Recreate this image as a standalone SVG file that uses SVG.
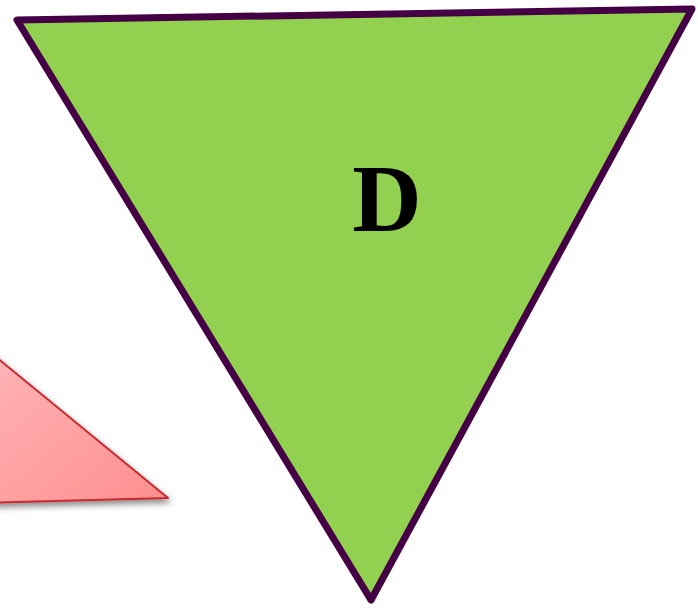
<svg xmlns="http://www.w3.org/2000/svg" width="698" height="610" viewBox="0 0 698 610">
  <defs>
    <linearGradient id="pinkGrad" x1="0" y1="0" x2="1" y2="1">
      <stop offset="0" stop-color="#ffbfc2"/>
      <stop offset="1" stop-color="#ff8e8e"/>
    </linearGradient>
    <filter id="shadow" x="-20%" y="-20%" width="140%" height="140%">
      <feGaussianBlur in="SourceAlpha" stdDeviation="3"/>
      <feOffset dx="2" dy="4" result="b"/>
      <feComponentTransfer><feFuncA type="linear" slope="0.45"/></feComponentTransfer>
      <feMerge><feMergeNode/><feMergeNode in="SourceGraphic"/></feMerge>
    </filter>
    <style>
      .label { font-family: "Liberation Serif", "Times New Roman", serif; font-weight: bold; fill: #000; }
    </style>
  </defs>
  <rect width="698" height="610" fill="#ffffff"/>
  <g id="pink-triangle" filter="url(#shadow)">
    <polygon points="-60,311 168,498 -20,503" fill="url(#pinkGrad)" stroke="#c62a30" stroke-width="2" stroke-linejoin="round"/>
  </g>
  <g id="node-D">
    <polygon points="17,20 692,9 371,600" fill="#92d050" stroke="#450045" stroke-width="7" stroke-linejoin="round"/>
    <text class="label" x="387" y="231" font-size="96" text-anchor="middle">D</text>
  </g>
  <g id="connectors"/>
</svg>
